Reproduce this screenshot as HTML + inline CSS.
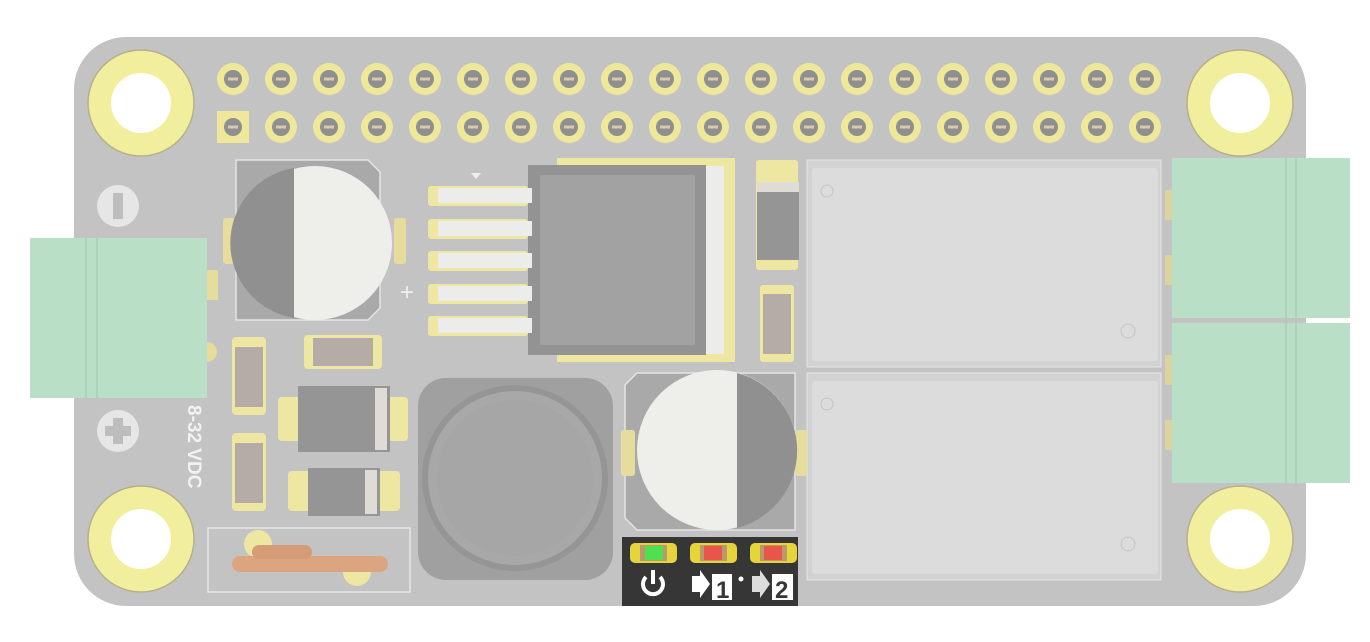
<!DOCTYPE html>
<html><head><meta charset="utf-8"><style>html,body{margin:0;padding:0;background:#fff;width:1370px;height:642px;overflow:hidden}</style></head>
<body>
<svg width="1370" height="642" viewBox="0 0 1370 642" xmlns="http://www.w3.org/2000/svg" xmlns:xlink="http://www.w3.org/1999/xlink" font-family="Liberation Sans, sans-serif">
<defs>
<g id="pr"><circle r="16" fill="#efe79a"/><circle r="9" fill="#8f8f8f"/><rect x="-5" y="-1.5" width="10" height="3" fill="#d8c8b0"/></g>
<g id="pq"><rect x="-16" y="-16" width="32" height="32" fill="#efe79a"/><circle r="9" fill="#8f8f8f"/><rect x="-5" y="-1.5" width="10" height="3" fill="#d8c8b0"/></g>
<g id="row"><use xlink:href="#pr" x="233"/><use xlink:href="#pr" x="281"/><use xlink:href="#pr" x="329"/><use xlink:href="#pr" x="377"/><use xlink:href="#pr" x="425"/><use xlink:href="#pr" x="473"/><use xlink:href="#pr" x="521"/><use xlink:href="#pr" x="569"/><use xlink:href="#pr" x="617"/><use xlink:href="#pr" x="665"/><use xlink:href="#pr" x="713"/><use xlink:href="#pr" x="761"/><use xlink:href="#pr" x="809"/><use xlink:href="#pr" x="857"/><use xlink:href="#pr" x="905"/><use xlink:href="#pr" x="953"/><use xlink:href="#pr" x="1001"/><use xlink:href="#pr" x="1049"/><use xlink:href="#pr" x="1097"/><use xlink:href="#pr" x="1145"/></g>
</defs>
<rect x="74" y="37" width="1232" height="569" rx="52" fill="#c3c3c3"/>
<!-- mounting holes -->
<g fill="#f1ee9e" stroke="#b5b08a" stroke-width="1.5"><circle cx="141" cy="103" r="53"/><circle cx="1240" cy="103" r="53"/><circle cx="141" cy="539" r="53"/><circle cx="1240" cy="539" r="53"/></g>
<g fill="#fff"><circle cx="141" cy="103" r="30"/><circle cx="1240" cy="103" r="30"/><circle cx="141" cy="539" r="30"/><circle cx="1240" cy="539" r="30"/></g>
<!-- header pins -->
<use xlink:href="#row" y="79"/>
<use xlink:href="#row" y="127"/>
<use xlink:href="#pq" x="233" y="127"/>
<!-- minus / plus -->
<circle cx="118" cy="206" r="21" fill="#e6e6e6"/><rect x="113" y="193" width="10" height="26" fill="#bdbdbd"/>
<circle cx="118" cy="431" r="21" fill="#e6e6e6"/><path d="M113 418h10v8h8v10h-8v8h-10v-8h-8v-10h8z" fill="#bdbdbd"/>
<text transform="translate(188,405) rotate(90)" fill="#f2f2f2" font-size="19" font-weight="bold">8-32 VDC</text>
<!-- left terminal -->
<rect x="206" y="270" width="12" height="30" fill="#e6dc9c"/>
<circle cx="207" cy="352" r="10" fill="#e6dc9c"/>
<rect x="30" y="238" width="177" height="160" fill="#b9dfc6"/>
<line x1="86" y1="238" x2="86" y2="398" stroke="#a8cdb6" stroke-width="1.5"/><line x1="97" y1="238" x2="97" y2="398" stroke="#a8cdb6" stroke-width="1.5"/>
<!-- cap 1 -->
<path d="M236 160h132l12 12v136l-12 12h-132z" fill="#a9a9a9" stroke="#e4e4e4" stroke-width="1.5"/>
<rect x="223" y="218" width="12" height="46" rx="3" fill="#e6dc9c"/><rect x="394" y="218" width="12" height="46" rx="3" fill="#e6dc9c"/>
<circle cx="315" cy="243" r="77" fill="#eeeeea"/><path d="M294 168 A76 76 0 0 0 294 318 Z" fill="#909090"/>
<text x="400" y="300" fill="#f0f0f0" font-size="24">+</text>
<!-- regulator -->
<rect x="557" y="158" width="178" height="204" fill="#eee7a2"/>
<rect x="528" y="165" width="178" height="190" fill="#939393"/>
<rect x="540" y="175" width="155" height="170" fill="#a2a2a2"/>
<rect x="706" y="166" width="18" height="188" fill="#ececea"/>
<g fill="#eee7a2"><rect x="428" y="186" width="100" height="20" rx="3"/><rect x="428" y="219" width="100" height="20" rx="3"/><rect x="428" y="251" width="100" height="20" rx="3"/><rect x="428" y="284" width="100" height="20" rx="3"/><rect x="428" y="316" width="100" height="20" rx="3"/></g>
<g fill="#ececea"><rect x="438" y="188" width="94" height="15"/><rect x="438" y="221" width="94" height="15"/><rect x="438" y="253" width="94" height="15"/><rect x="438" y="286" width="94" height="15"/><rect x="438" y="318" width="94" height="15"/></g>
<path d="M471 173h10l-5 6z" fill="#eee"/>
<!-- small parts right of regulator -->
<rect x="756" y="160" width="42" height="110" rx="3" fill="#eee7a2"/>
<rect x="757" y="182" width="42" height="78" fill="#959595"/><rect x="757" y="182" width="42" height="10" fill="#dedcd4"/>
<rect x="760" y="285" width="34" height="77" rx="3" fill="#eee7a2"/><rect x="763" y="294" width="28" height="60" fill="#b5aca8"/>
<!-- relays -->
<rect x="807" y="160" width="354" height="207" fill="#d2d2d2" stroke="#e6e6e6"/>
<rect x="812" y="168" width="346" height="193" rx="3" fill="#dcdcdc"/>
<rect x="807" y="373" width="354" height="207" fill="#d2d2d2" stroke="#e6e6e6"/>
<rect x="812" y="381" width="346" height="193" rx="3" fill="#dcdcdc"/>
<g fill="none" stroke="#c4c4c4"><circle cx="827" cy="191" r="6"/><circle cx="1128" cy="331" r="7"/><circle cx="827" cy="404" r="6"/><circle cx="1128" cy="544" r="7"/></g>
<!-- right terminals -->
<rect x="1165" y="190" width="10" height="30" fill="#dcd4a0"/><rect x="1165" y="255" width="10" height="30" fill="#dcd4a0"/><rect x="1165" y="355" width="10" height="30" fill="#dcd4a0"/><rect x="1165" y="420" width="10" height="30" fill="#dcd4a0"/>
<rect x="1172" y="158" width="178" height="160" fill="#b9dfc6"/>
<rect x="1172" y="323" width="178" height="160" fill="#b9dfc6"/>
<line x1="1286" y1="158" x2="1286" y2="483" stroke="#a8cdb6" stroke-width="1.5"/><line x1="1296" y1="158" x2="1296" y2="483" stroke="#a8cdb6" stroke-width="1.5"/>
<!-- small SMD left -->
<rect x="232" y="337" width="34" height="78" rx="4" fill="#eee7a2"/><rect x="235" y="347" width="28" height="60" fill="#b5aca8"/>
<rect x="232" y="433" width="34" height="78" rx="4" fill="#eee7a2"/><rect x="235" y="443" width="28" height="60" fill="#b5aca8"/>
<rect x="304" y="335" width="78" height="34" rx="4" fill="#eee7a2"/><rect x="313" y="338" width="60" height="28" fill="#b5aca8"/>
<!-- diodes -->
<rect x="278" y="397" width="130" height="44" rx="4" fill="#eee7a2"/>
<rect x="298" y="386" width="92" height="66" fill="#959595"/><rect x="375" y="388" width="12" height="62" fill="#dedcd4"/>
<rect x="288" y="471" width="112" height="40" rx="4" fill="#eee7a2"/>
<rect x="308" y="468" width="72" height="48" fill="#959595"/><rect x="365" y="470" width="12" height="44" fill="#dedcd4"/>
<!-- coil jumper -->
<rect x="208" y="528" width="202" height="64" fill="none" stroke="#e6e6e6" stroke-width="1.5"/>
<circle cx="258" cy="544" r="14" fill="#eee7a2"/><circle cx="357" cy="572" r="14" fill="#eee7a2"/>
<rect x="232" y="556" width="156" height="16" rx="8" fill="#dba57f"/>
<rect x="252" y="545" width="60" height="14" rx="7" fill="#d49d78"/>
<!-- inductor -->
<rect x="418" y="378" width="195" height="202" rx="28" fill="#a0a0a0"/>
<circle cx="515" cy="478" r="90" fill="#a8a8a8" stroke="#959595" stroke-width="6"/>
<circle cx="515" cy="478" r="78" fill="#a6a6a6"/>
<!-- cap 2 -->
<path d="M625 385l12-12h158v157h-158l-12-12z" fill="#a9a9a9" stroke="#e4e4e4" stroke-width="1.5"/>
<rect x="621" y="430" width="14" height="46" rx="3" fill="#e6dc9c"/><rect x="795" y="430" width="12" height="46" rx="3" fill="#e6dc9c"/>
<circle cx="717" cy="450" r="80" fill="#eeeeea"/><path d="M737 373a80 80 0 0 1 0 155z" fill="#909090"/>
<!-- LED panel -->
<rect x="622" y="537" width="176" height="69" fill="#363636"/>
<g fill="#e6d53a"><rect x="630" y="543" width="47" height="20" rx="5"/><rect x="690" y="543" width="47" height="20" rx="5"/><rect x="750" y="543" width="47" height="20" rx="5"/></g>
<g fill="#b99a6e"><rect x="640" y="545" width="27" height="16"/><rect x="700" y="545" width="27" height="16"/><rect x="760" y="545" width="27" height="16"/></g>
<rect x="645" y="546" width="18" height="14" fill="#4ee04e"/><rect x="704" y="546" width="18" height="14" fill="#e8554a"/><rect x="764" y="546" width="18" height="14" fill="#e8554a"/>
<path d="M646 577a10 10 0 1 0 14 0" fill="none" stroke="#fff" stroke-width="4"/><rect x="651" y="570" width="4" height="14" fill="#fff"/>
<path d="M692 576h8v-6l10 14l-10 14v-6h-8z" fill="#fff"/><rect x="712" y="574" width="20" height="26" fill="#fff"/><text x="716" y="598" font-size="24" font-weight="bold" fill="#363636">1</text>
<path d="M752 576h8v-6l10 14l-10 14v-6h-8z" fill="#ddd"/><rect x="772" y="574" width="21" height="26" fill="#fff"/><text x="775" y="598" font-size="24" font-weight="bold" fill="#363636">2</text>
<circle cx="741" cy="579" r="2.5" fill="#fff"/>
</svg>
</body></html>
